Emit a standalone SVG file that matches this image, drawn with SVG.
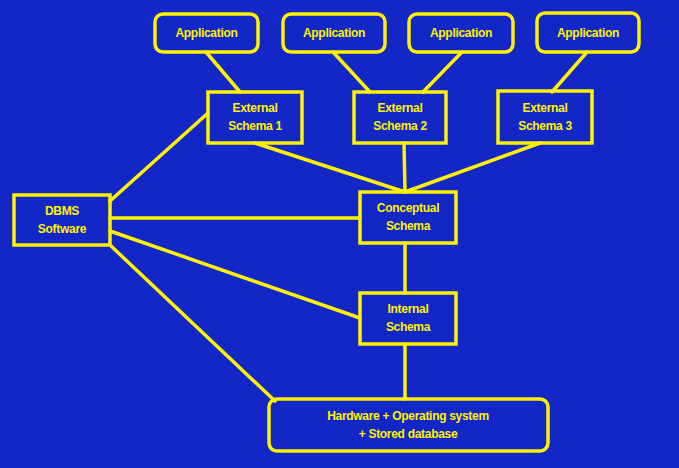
<svg xmlns="http://www.w3.org/2000/svg" width="679" height="468" viewBox="0 0 679 468">
<style>
.box{fill:none;stroke:#fff200;stroke-width:3.5}
.ln{stroke:#fff200;stroke-width:3.5;fill:none;stroke-linecap:round}
.t{font-family:"Liberation Sans",Arial,sans-serif;font-weight:bold;font-size:12px;fill:#fff200;text-anchor:middle;letter-spacing:-0.3px}
</style>
<rect width="679" height="468" fill="#1227c6"/>
<g id="connectors">
<line class="ln" x1="206" y1="52" x2="240" y2="92"/>
<line class="ln" x1="333" y1="52" x2="370" y2="92"/>
<line class="ln" x1="462" y1="52" x2="423" y2="92"/>
<line class="ln" x1="587" y1="52" x2="552" y2="92"/>
<line class="ln" x1="208" y1="113" x2="110" y2="201"/>
<line class="ln" x1="255" y1="143" x2="405" y2="192"/>
<line class="ln" x1="404" y1="143" x2="405" y2="192"/>
<line class="ln" x1="540" y1="143" x2="405" y2="192"/>
<line class="ln" x1="110" y1="218" x2="360" y2="218"/>
<line class="ln" x1="110" y1="231" x2="360" y2="318"/>
<line class="ln" x1="110" y1="245" x2="275" y2="401"/>
<line class="ln" x1="405" y1="243" x2="405" y2="293"/>
<line class="ln" x1="405" y1="344" x2="405" y2="399"/>
</g>
<g id="app1"><rect class="box" x="155" y="14" width="103" height="38" rx="8"/><text class="t" x="206.5" y="37">Application</text></g>
<g id="app2"><rect class="box" x="283" y="14" width="102" height="38" rx="8"/><text class="t" x="334" y="37">Application</text></g>
<g id="app3"><rect class="box" x="409" y="14" width="104" height="38" rx="8"/><text class="t" x="461" y="37">Application</text></g>
<g id="app4"><rect class="box" x="537" y="13" width="102" height="39" rx="8"/><text class="t" x="588" y="37">Application</text></g>
<g id="ext1"><rect class="box" x="208" y="92" width="94" height="51"/><text class="t" x="255" y="112">External</text><text class="t" x="255" y="130">Schema 1</text></g>
<g id="ext2"><rect class="box" x="354" y="92" width="92" height="51"/><text class="t" x="400" y="112">External</text><text class="t" x="400" y="130">Schema 2</text></g>
<g id="ext3"><rect class="box" x="498" y="91" width="94" height="52"/><text class="t" x="545" y="112">External</text><text class="t" x="545" y="130">Schema 3</text></g>
<g id="dbms"><rect class="box" x="14" y="195" width="96" height="50"/><text class="t" x="62" y="215">DBMS</text><text class="t" x="62" y="233">Software</text></g>
<g id="conceptual"><rect class="box" x="360" y="192" width="96" height="51"/><text class="t" x="408" y="212">Conceptual</text><text class="t" x="408" y="230">Schema</text></g>
<g id="internal"><rect class="box" x="360" y="293" width="96" height="51"/><text class="t" x="408" y="313">Internal</text><text class="t" x="408" y="331">Schema</text></g>
<g id="hardware"><rect class="box" x="269" y="399" width="279" height="52" rx="8"/><text class="t" x="408" y="420">Hardware + Operating system</text><text class="t" x="408" y="438">+ Stored database</text></g>
</svg>
